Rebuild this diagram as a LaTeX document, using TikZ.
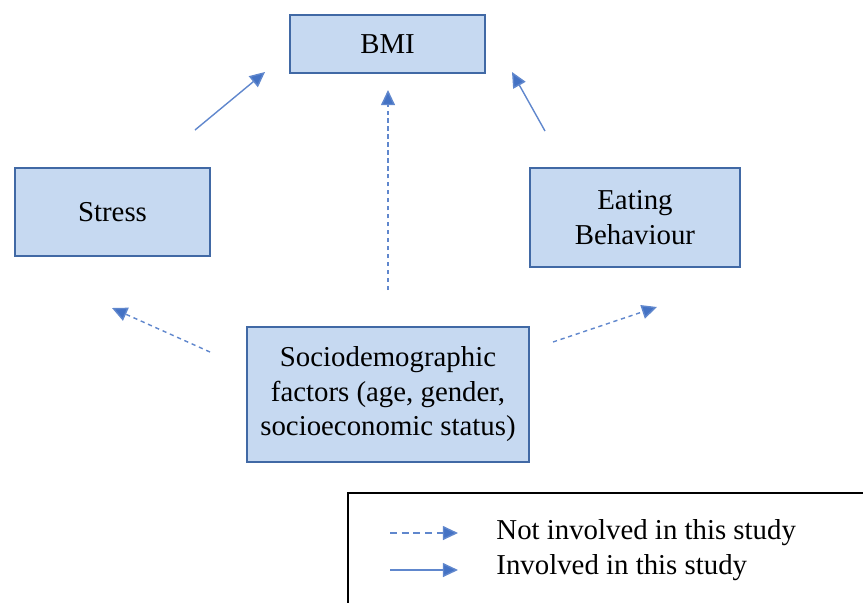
\documentclass[tikz,border=0pt]{standalone}
\usepackage{fontspec}
\setmainfont{Liberation Serif}
\usetikzlibrary{arrows.meta, positioning}

\definecolor{boxfill}{RGB}{198,217,241}
\definecolor{boxline}{RGB}{65,105,165}
\definecolor{arrowblue}{RGB}{68,114,196}

\begin{document}
\begin{tikzpicture}[
        x=0.015cm, y=-0.015cm,
        font={\fontsize{12.3}{14.7}\selectfont},
        factorbox/.style={rectangle, draw=boxline, line width=0.6pt, fill=boxfill, text=black, align=center},
        involved/.style={arrowblue!85, line width=0.6pt, -{Triangle[length=6.5pt, width=6pt, fill=arrowblue]}},
        notinvolved/.style={involved, dash pattern=on 1.8pt off 1.6pt},
        legendtext/.style={anchor=west, inner sep=0pt}
    ]
        \useasboundingbox (0,0) rectangle (863,602);
        \clip (0,0) rectangle (863,602);

        % Free arrow ends
        \coordinate (stressOut) at (195,130);
        \coordinate (bmiInL) at (265,72);
        \coordinate (eatingOut) at (545,131);
        \coordinate (bmiInR) at (512,72);
        \coordinate (socioUp) at (388,290);
        \coordinate (bmiInC) at (388,90);
        \coordinate (socioL) at (210,352);
        \coordinate (stressIn) at (112,308);
        \coordinate (socioR) at (553,342);
        \coordinate (eatingIn) at (657,307);

        % Paths in this study
        \draw [involved] (stressOut) -- (bmiInL);
        \draw [involved] (eatingOut) -- (bmiInR);

        % Paths not in this study
        \draw [notinvolved] (socioUp) -- (bmiInC);
        \draw [notinvolved] (socioL) -- (stressIn);
        \draw [notinvolved] (socioR) -- (eatingIn);

        % Factors
        \node (bmi) [factorbox, minimum width=2.925cm, minimum height=0.87cm] at (387.5,44) {BMI};
        \node (stress) [factorbox, minimum width=2.925cm, minimum height=1.32cm] at (112.5,212) {Stress};
        \node (eating) [factorbox, minimum width=3.15cm, minimum height=1.485cm] at (635,217.5) {Eating\\Behaviour};
        \node (socio) [factorbox, minimum width=4.23cm, minimum height=2.025cm] at (388,394.5) {Sociodemographic\\factors (age, gender,\\socioeconomic status)};

        % Legend
        \draw [black, line width=0.5pt] (348,650) -- (348,493) -- (900,493);
        \coordinate (keyA) at (390,533);
        \coordinate (keyB) at (458,533);
        \coordinate (keyC) at (390,570);
        \coordinate (keyD) at (458,570);
        \draw [involved, dash pattern=on 3pt off 2pt] (keyA) -- (keyB);
        \draw [involved] (keyC) -- (keyD);
        \node (keyNot) [legendtext] at (496,533) {Not involved in this study};
        \node (keyIn) [legendtext] at (496,568) {Involved in this study};

    \end{tikzpicture}
\end{document}
